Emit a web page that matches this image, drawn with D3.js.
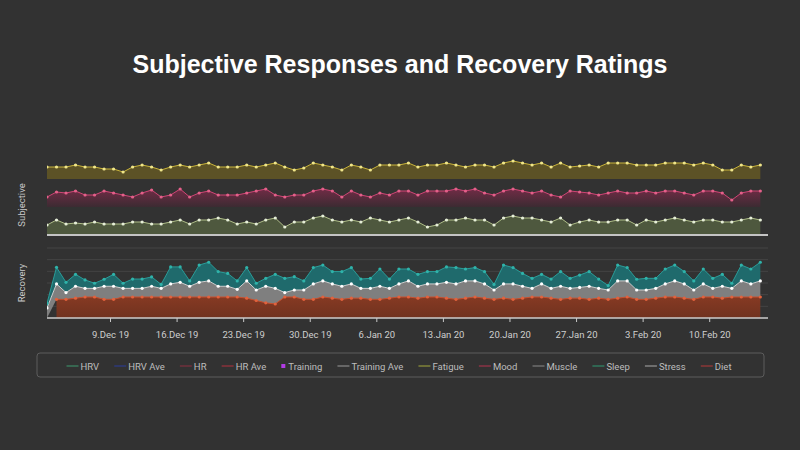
<!DOCTYPE html>
<html lang="en">
<head>
<meta charset="UTF-8">
<title>Subjective Responses and Recovery Ratings</title>
<script src="https://d3js.org/d3.v7.min.js"></script>
<style>
  body { margin: 0; background: #323232; }
  svg { display: block; }
</style>
</head>
<body>
<script>
// daily ratings, one per day from 2 Dec 2019 to 15 Feb 2020
var fatigue = [6,6,6,7,6,6,5,5,3.5,6,
  7,6,4.5,6,7,6,7,8,6,6,
  6,7,6,7,8,6,4.5,5.5,8,7,
  6,4.5,7,6,4.5,7,7,7,8,6,
  7,7,8,7,6,7,7,6,8,9,
  8,7,8,6,8,6,6.5,7,6,8,
  8,8,7,7,7,8,8,8,7,8,
  7,4.5,4.5,7,6,7];
var mood = [5,7.5,7,8,6,6,8,7,6,5,
  7,8.5,5,6,9,5,7,8,6,6,
  6,7,8,9,6,5,6,6,8,9,
  8,5,8,6,5,7,6,8,8,6,
  8,8,8,9,8,9,7,6,8,9,
  8,7,8,6,5,8,7.5,7,6,7,
  8,7,7,8,7,8,8,7,6,8,
  8,7,3.5,7,8,8];
var muscle = [4.5,7,5,5.5,5,6,5,5,5,6,
  6,5,5,6,7,5,7,7,8,7,
  5,6,5,7,8,3.5,6,6,8,9,
  7,6,7,6,8,7,6,7,8,6,
  3.5,4.5,7,7,8,7,7,4.5,8,9,
  8,8,7,6,8,4.5,6,7,6,6,
  7,7,4.5,7,6,7,8,7,6,7,
  7,6,6,7,8,7];
var sleep = [2,7.1,4.4,5.1,3.6,2.2,3,5.1,2.2,4,
  4,4,1.7,7.3,6.6,2.3,7.4,8,6.3,5.5,
  3.6,5.7,2.9,3.4,6,6.1,5.7,3.9,7,6.8,
  5.3,6.3,7,4,4.3,7.4,4,6.4,5.1,5.1,
  5.3,5.3,6.6,7,5.1,5.7,5.3,2.4,8.1,7,
  5.5,4.3,4.1,4,6.3,4.3,5.3,6.3,4,1.9,
  6.8,5.7,4.6,5,4.3,6.4,6.8,5.3,3.9,6.4,
  4.3,5.1,2.2,6.8,6.4,8];
var stress = [4.3,6.6,2.9,5.1,3.7,3.7,5.6,5.6,3.7,3.7,
  3.7,4.6,3.7,5.6,6.3,4.6,6.3,6.9,4.6,4.6,
  3.3,7.4,4.5,7.1,6.7,1.9,3,4,6.6,6.9,
  6.1,5.6,6.1,4.2,4.7,5.6,4.2,5.6,6.9,5.1,
  5.6,5.6,6.8,6.6,7.4,6.9,6.1,4,6.1,6.6,
  5.1,3.7,5.6,4.2,5.6,4.2,4.6,5.6,4.2,4,
  7.4,6.9,4,4,4.2,5.6,6.9,6.1,4,5.6,
  3.7,5.1,3.7,6.9,5.6,6.9];
var diet = [null,8,8,8.5,9,9,8,8,9,9,
  9,9,9,9,9,9,9,9,9,9,
  9,8.5,7.5,6.5,6,9,9,8,8,9,
  8.5,8,8.5,8.5,8,8,8.5,9,9,8.5,
  9,9,8.5,8,8.5,9,8.5,8,8.5,8,
  8.5,9,9,8.5,8,8.5,8.5,8,8.5,8,
  8.5,9,8,8,8.5,9,9,8.5,8,9,
  9,8.5,9,9,9,9];

var legendNames = ["HRV", "HRV Ave", "HR", "HR Ave", "Training", "Training Ave",
  "Fatigue", "Mood", "Muscle", "Sleep", "Stress", "Diet"];
var legendColors = ["#3c9a6e", "#2b3c9e", "#8e2e40", "#b3303f", "#b23be6", "#9a9a9a",
  "#a3a83a", "#b5324f", "#8a8a8a", "#2f9a72", "#aaaaaa", "#b53838"];

var width = 800, height = 450;
var labelFont = "Roboto, 'Liberation Sans', sans-serif";

var start = new Date(2019, 11, 2, 9);
var rows = fatigue.map(function(v, i) {
  return {
    date: d3.timeDay.offset(start, i),
    fatigue: v, mood: mood[i], muscle: muscle[i],
    sleep: sleep[i], stress: stress[i], diet: diet[i]
  };
});

var svg = d3.select("body").append("svg")
    .attr("width", width)
    .attr("height", height);

svg.append("rect").attr("width", width).attr("height", height).attr("fill", "#323232");

var defs = svg.append("defs");
defs.append("clipPath").attr("id", "plot")
  .append("rect").attr("x", 47).attr("y", 140).attr("width", 721).attr("height", 180);

var mg = defs.append("linearGradient").attr("id", "moodFill")
    .attr("gradientUnits", "userSpaceOnUse")
    .attr("x1", 0).attr("x2", 0).attr("y1", 185).attr("y2", 207);
mg.append("stop").attr("offset", 0).attr("stop-color", "#7c2c4a");
mg.append("stop").attr("offset", 1).attr("stop-color", "#3c2b32");

var dg = defs.append("linearGradient").attr("id", "dietFill")
    .attr("gradientUnits", "userSpaceOnUse")
    .attr("x1", 0).attr("x2", 0).attr("y1", 296).attr("y2", 318);
dg.append("stop").attr("offset", 0).attr("stop-color", "#873a23");
dg.append("stop").attr("offset", 1).attr("stop-color", "#70321f");

svg.append("text")
    .attr("x", 400).attr("y", 73)
    .attr("text-anchor", "middle")
    .style("font", "bold 25px 'Liberation Sans', Arial, sans-serif")
    .attr("fill", "#ffffff")
    .text("Subjective Responses and Recovery Ratings");

var x = d3.scaleTime()
    .domain([start, new Date(2020, 1, 16, 4, 20)])
    .range([47, 768]);

// Subjective: three bands, each with its own axis
var bands = [
  {key: "fatigue", base: 179, line: "#c9b43a", dot: "#f0e68a", fill: "#5c5226"},
  {key: "mood", base: 207, line: "#cf4575", dot: "#e4608a", fill: "url(#moodFill)"},
  {key: "muscle", base: 234, line: "#aebd88", dot: "#e6eed8", fill: "#4e583e"}
];

var sub = svg.append("g").attr("clip-path", "url(#plot)");
bands.forEach(function(b) {
  var y = d3.scaleLinear().domain([0, 14]).range([b.base, b.base - 28]);
  var area = d3.area()
      .x(function(d) { return x(d.date); })
      .y0(y(0))
      .y1(function(d) { return y(d[b.key]); });
  var line = d3.line()
      .x(function(d) { return x(d.date); })
      .y(function(d) { return y(d[b.key]); });
  sub.append("path").datum(rows).attr("d", area).attr("fill", b.fill);
  sub.append("path").datum(rows).attr("d", line)
      .attr("fill", "none").attr("stroke", b.line).attr("stroke-width", 1);
  sub.selectAll(".dot-" + b.key).data(rows).enter().append("circle")
      .attr("class", "dot-" + b.key)
      .attr("cx", function(d) { return x(d.date); })
      .attr("cy", function(d) { return y(d[b.key]); })
      .attr("r", 1.6)
      .attr("fill", b.dot);
});

svg.append("line")
    .attr("x1", 47).attr("x2", 768).attr("y1", 235).attr("y2", 235)
    .attr("stroke", "#c4c4c4").attr("stroke-width", 2);

// Recovery: stacked areas
var yR = d3.scaleLinear().domain([0, 30]).range([318, 248]);

svg.append("g").selectAll("line")
    .data(yR.ticks(6).filter(function(t) { return t > 0; }))
    .enter().append("line")
    .attr("x1", 47).attr("x2", 768)
    .attr("y1", function(d) { return yR(d); })
    .attr("y2", function(d) { return yR(d); })
    .attr("stroke", "#444444").attr("stroke-width", 1);

var keys = ["diet", "stress", "sleep"];
var styles = {
  diet: {fill: "url(#dietFill)", line: "#c9502e", dot: "#e2623d"},
  stress: {fill: "#7f7f7f", line: "#d0d0d0", dot: "#ffffff"},
  sleep: {fill: "#1f6a6c", line: "#2a9c98", dot: "#2fb3aa"}
};
var layers = d3.stack()
    .keys(keys)
    .value(function(d, k) { return d[k] == null ? 0 : d[k]; })(rows);

var rec = svg.append("g").attr("clip-path", "url(#plot)");
layers.forEach(function(layer) {
  var k = layer.key;
  var defined = function(d) { return d.data[k] != null; };
  var area = d3.area().defined(defined)
      .x(function(d) { return x(d.data.date); })
      .y0(function(d) { return yR(d[0]); })
      .y1(function(d) { return yR(d[1]); });
  rec.append("path").datum(layer).attr("d", area).attr("fill", styles[k].fill);
});
layers.forEach(function(layer) {
  var k = layer.key;
  var defined = function(d) { return d.data[k] != null; };
  var line = d3.line().defined(defined)
      .x(function(d) { return x(d.data.date); })
      .y(function(d) { return yR(d[1]); });
  rec.append("path").datum(layer).attr("d", line)
      .attr("fill", "none").attr("stroke", styles[k].line).attr("stroke-width", 1);
  rec.selectAll(".dot-" + k).data(layer.filter(defined)).enter().append("circle")
      .attr("class", "dot-" + k)
      .attr("cx", function(d) { return x(d.data.date); })
      .attr("cy", function(d) { return yR(d[1]); })
      .attr("r", 1.6)
      .attr("fill", styles[k].dot);
});

// x axis
var xAxis = svg.append("g")
    .attr("transform", "translate(0,318)")
    .call(d3.axisBottom(x)
        .tickValues(x.ticks(d3.timeMonday))
        .tickFormat(d3.timeFormat("%-d.%b %y"))
        .tickSize(4)
        .tickPadding(9));
xAxis.select(".domain").remove();
xAxis.selectAll(".tick line").attr("stroke", "#c8c8c8");
xAxis.selectAll(".tick text")
    .attr("fill", "#cfcfcf")
    .style("font-family", labelFont)
    .style("font-size", "9.5px");
svg.append("line")
    .attr("x1", 47).attr("x2", 768).attr("y1", 318).attr("y2", 318)
    .attr("stroke", "#cccccc").attr("stroke-width", 1.5);

// axis titles
[["Subjective", 205], ["Recovery", 283]].forEach(function(t) {
  svg.append("text")
      .attr("transform", "translate(25," + t[1] + ") rotate(-90)")
      .attr("text-anchor", "middle")
      .attr("fill", "#c8c8c8")
      .style("font-family", labelFont)
      .style("font-size", "9.5px")
      .text(t[0]);
});

// legend
svg.append("rect")
    .attr("x", 37).attr("y", 353).attr("width", 727).attr("height", 24)
    .attr("rx", 3)
    .attr("fill", "none").attr("stroke", "#5c5c5c").attr("stroke-width", 1);

var legend = svg.append("g");
var items = legendNames.map(function(name, i) {
  var item = legend.append("g");
  var off = name === "Training" ? 7 : 14;
  if (name === "Training") {
    item.append("rect").attr("x", 0).attr("y", -2).attr("width", 4).attr("height", 4)
        .attr("fill", legendColors[i]);
  } else {
    item.append("line").attr("x1", 0).attr("x2", 12).attr("y1", 0).attr("y2", 0)
        .attr("stroke", legendColors[i]).attr("stroke-width", 1);
  }
  var t = item.append("text")
      .attr("x", off).attr("y", 3.5)
      .attr("fill", "#bdbdbd")
      .style("font-family", labelFont)
      .style("font-size", "9.5px")
      .text(name);
  return {g: item, w: off + t.node().getComputedTextLength()};
});
// spread the items over the same span as the reference legend
var span = 665;
var gap = (span - d3.sum(items, function(d) { return d.w; })) / (items.length - 1);
var lx = 0;
items.forEach(function(it) {
  it.g.attr("transform", "translate(" + lx + ",0)");
  lx += it.w + gap;
});
legend.attr("transform", "translate(" + (399 - span / 2) + ",366)");
</script>
</body>
</html>
